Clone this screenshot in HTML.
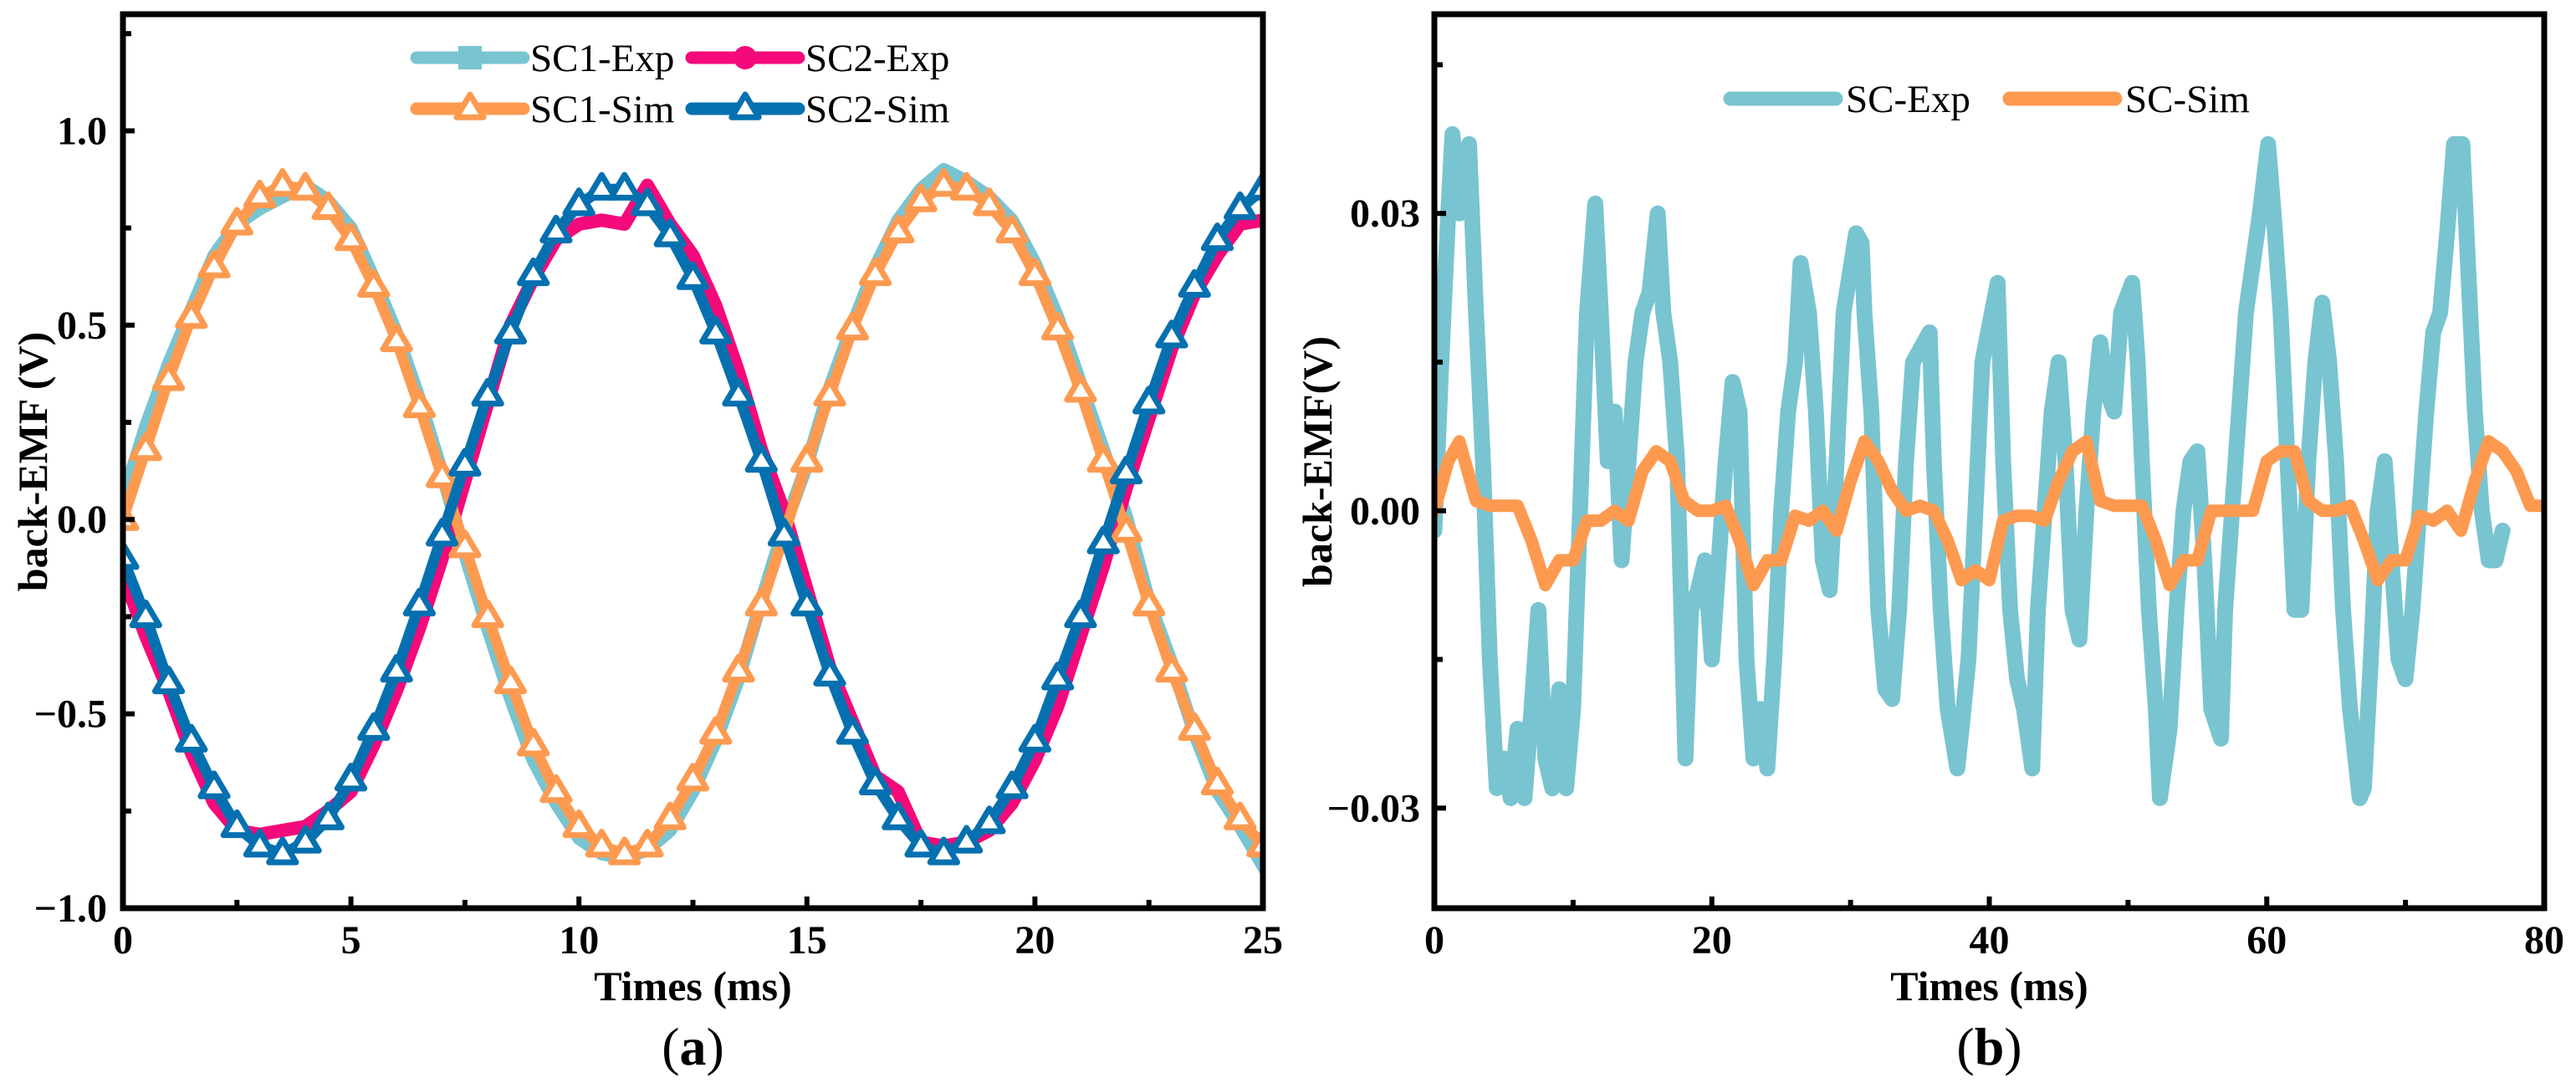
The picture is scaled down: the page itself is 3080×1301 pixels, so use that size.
<!DOCTYPE html>
<html><head><meta charset="utf-8">
<style>
html,body{margin:0;padding:0;background:#fff;font-family:"Liberation Serif","Times New Roman",Times,serif;}
svg{display:block;}
svg text{font-family:"Liberation Serif","Times New Roman",Times,serif;}
</style></head>
<body>
<svg id="chart" width="3080" height="1301" viewBox="0 0 3080 1301" xmlns="http://www.w3.org/2000/svg" font-family="Liberation Serif, Times New Roman, serif">
<g id="pa"></g>
<g id="pb"></g>
</svg>
<script>
// ---------- Panel (a) data ----------
const aTimes = [0,0.5,1,1.5,2,2.5,3,3.5,4,4.5,5,5.5,6,6.5,7,7.5,8,8.5,9,9.5,10,10.5,11,11.5,12,12.5,13,13.5,14,14.5,15,15.5,16,16.5,17,17.5,18,18.5,19,19.5,20,20.5,21,21.5,22,22.5,23,23.5,24,24.5,25];
const sc1Sim = [0,0.18,0.36,0.52,0.65,0.76,0.83,0.86,0.85,0.80,0.72,0.60,0.46,0.29,0.11,-0.07,-0.25,-0.42,-0.58,-0.70,-0.79,-0.84,-0.86,-0.84,-0.77,-0.67,-0.55,-0.39,-0.22,-0.04,0.15,0.32,0.49,0.63,0.74,0.82,0.86,0.85,0.81,0.74,0.63,0.49,0.33,0.15,-0.03,-0.22,-0.39,-0.54,-0.68,-0.77,-0.84];
const sc2Sim = [-0.10,-0.25,-0.42,-0.57,-0.69,-0.79,-0.84,-0.86,-0.83,-0.77,-0.67,-0.54,-0.39,-0.22,-0.04,0.14,0.32,0.48,0.63,0.74,0.81,0.85,0.85,0.81,0.73,0.62,0.48,0.32,0.15,-0.04,-0.22,-0.40,-0.55,-0.68,-0.77,-0.84,-0.86,-0.83,-0.78,-0.69,-0.57,-0.41,-0.25,-0.06,0.12,0.30,0.47,0.60,0.72,0.80,0.85];
const sc1Exp = [0.05,0.24,0.40,0.54,0.68,0.76,0.80,0.83,0.86,0.82,0.75,0.62,0.48,0.31,0.12,-0.09,-0.28,-0.46,-0.62,-0.73,-0.82,-0.86,-0.87,-0.85,-0.80,-0.70,-0.57,-0.41,-0.21,-0.02,0.14,0.34,0.50,0.65,0.77,0.85,0.90,0.87,0.83,0.77,0.66,0.52,0.35,0.18,0.01,-0.21,-0.37,-0.55,-0.70,-0.79,-0.89];
const sc2Exp = [-0.14,-0.30,-0.44,-0.60,-0.73,-0.80,-0.81,-0.80,-0.79,-0.75,-0.70,-0.58,-0.44,-0.28,-0.10,0.10,0.30,0.50,0.62,0.72,0.76,0.77,0.76,0.86,0.76,0.68,0.55,0.38,0.18,0.02,-0.18,-0.38,-0.52,-0.66,-0.70,-0.83,-0.84,-0.83,-0.80,-0.73,-0.62,-0.48,-0.30,-0.12,0.08,0.26,0.44,0.58,0.68,0.76,0.77];
const aXTicks = [0,5,10,15,20,25];
const aYTicks = [-1.0,-0.5,0.0,0.5,1.0];
const aYTickLabels = ["\u22121.0","\u22120.5","0.0","0.5","1.0"];

// ---------- Panel (b) data (units of 0.001 V) ----------
const bExpTimes = [0,0.5,1,1.3,1.8,2.5,3,3.5,4,4.5,5,5.5,6,6.5,7,7.5,8,8.5,9,9.5,10,10.5,11,11.6,12,12.5,13,13.5,14,14.5,15,15.5,16.1,16.5,17,17.5,18.1,18.5,19,19.5,20,20.5,21,21.5,22,22.5,23,23.5,24,24.5,25,25.5,26,26.4,27,27.5,28,28.5,29,29.5,30.4,30.8,31,31.5,32,32.5,33,33.5,34,34.5,35.7,36,36.5,37,37.7,38,38.5,39,39.5,40.6,41,41.5,42,42.5,43.1,43.5,44,44.5,45,45.5,46,46.5,47,47.5,48,48.5,49,49.5,50.3,50.7,51,51.5,52,52.3,53,53.5,54,54.5,55,55.5,56,56.7,57,57.5,58,58.5,59,59.5,60.1,60.5,61,61.5,62,62.5,63,63.5,64,64.5,65,65.5,66,66.7,67,67.5,68,68.5,69,69.5,70,70.5,71,71.5,72,72.5,73,73.5,74.1,74.5,75,75.5,76,76.5,77];
const bExp = [-2,15,30,38,30,37,20,5,-15,-28,-25,-29,-22,-29,-20,-10,-25,-28,-18,-28,-20,0,20,31,20,5,10,-5,5,15,20,22,30,20,15,5,-25,-10,-8,-5,-15,-5,5,13,10,-15,-25,-20,-26,-15,0,10,15,25,20,10,-5,-8,5,20,28,27,20,10,-10,-18,-19,-10,5,15,18,5,-10,-20,-26,-22,-15,0,15,23,5,-10,-17,-20,-26,-10,0,10,15,5,-10,-13,0,10,17,12,10,20,23,15,5,-10,-20,-29,-22,-10,0,5,6,-5,-20,-23,-10,0,10,20,25,30,37,30,20,5,-10,-10,5,15,21,15,5,-10,-20,-29,-28,-15,0,5,-5,-15,-17,-10,0,10,18,20,28,37,37,25,10,0,-5,-5,-2];
const bSimTimes = [0,1,1.8,3,4,5,6,7,8,9,10,11,12,13,14,15,16,17,18,19,20,21,22,23,24,25,26,27,28,29,30,31,32,33,34,35,36,37,38,39,40,41,42,43,44,45,46,47,48,49,50,51,52,53,54,55,56,57,58,59,60,61,62,63,64,65,66,67,68,69,70,71,72,73,74,75,76,77,78,79,80];
const bSim = [0,5,7,1,0.5,0.5,0.5,-3,-7.5,-5,-5,-1,-1,0,-1,4,6,5,1,0,0,0.5,-3,-7.5,-5,-5,-0.5,-1,0,-2,3,7,5,2,0,0.5,0,-3,-7,-6,-7,-1,-0.5,-0.5,-1,3,6,7,1,0.5,0.5,0.5,-3,-7.5,-5,-5,0,0,0,0,5,6,6,1,0,0,0.5,-3,-7,-5,-5,-0.5,-1,0,-2,3,7,6,4,0.5,0.5];
const bXTicks = [0,20,40,60,80];
const bYTicks = [-0.03,0,0.03];
const bYTickLabels = ["\u22120.03","0.00","0.03"];

const NS = "http://www.w3.org/2000/svg";
const FF = "Liberation Serif, Times New Roman, serif";
function mk(parent, tag, attrs, txt){
  const e = document.createElementNS(NS, tag);
  for (const k in attrs) e.setAttribute(k, attrs[k]);
  if (tag === "text") e.setAttribute("font-family", FF);
  if (txt !== undefined) e.textContent = txt;
  parent.appendChild(e);
  return e;
}
function linScale(d0,d1,r0,r1){ return v => r0 + (v-d0)/(d1-d0)*(r1-r0); }
function pathD(xs, ys, sx, sy){
  return xs.map((t,i)=>(i?"L":"M")+sx(t).toFixed(1)+","+sy(ys[i]).toFixed(1)).join(" ");
}
function tri(parent, cx, cy, color, name){
  const r = 17;
  const p = mk(parent,"polygon",{points:`${cx},${cy-r} ${cx-r*0.95},${cy+r*0.6} ${cx+r*0.95},${cy+r*0.6}`,fill:"#fff",stroke:color,"stroke-width":7,"stroke-linejoin":"round"});
  
  
  return p;
}

// ============ Panel A ============
(function(){
  const g = document.getElementById("pa");
  const L=147,R=1510,T=17,B=1086;
  const sx = linScale(0,25,L,R);
  const sy = linScale(-1.0,1.3,B,T);
  const clip = mk(g,"clipPath",{id:"clipA"});
  mk(clip,"rect",{x:L,y:T,width:R-L,height:B-T});
  const plot = mk(g,"g",{"clip-path":"url(#clipA)"});
  
  

  const e1 = mk(plot,"path",{d:pathD(aTimes,sc1Exp,sx,sy),fill:"none",stroke:"#79c4d1","stroke-width":16,"stroke-linejoin":"round","stroke-linecap":"square"});
  
  
  const e2 = mk(plot,"path",{d:pathD(aTimes,sc2Exp,sx,sy),fill:"none",stroke:"#f40a7a","stroke-width":16,"stroke-linejoin":"round","stroke-linecap":"round"});
  
  

  const s1 = mk(plot,"path",{d:pathD(aTimes,sc1Sim,sx,sy),fill:"none",stroke:"#fd9a50","stroke-width":13,"stroke-linejoin":"round"});
  
  
  aTimes.forEach((t,i)=>tri(plot,sx(t),sy(sc1Sim[i]),"#fd9a50","sc1-sim-marker"));
  const s2 = mk(plot,"path",{d:pathD(aTimes,sc2Sim,sx,sy),fill:"none",stroke:"#0570b0","stroke-width":13,"stroke-linejoin":"round"});
  
  
  aTimes.forEach((t,i)=>tri(plot,sx(t),sy(sc2Sim[i]),"#0570b0","sc2-sim-marker"));

  const fr = mk(g,"rect",{x:L,y:T,width:R-L,height:B-T,fill:"none",stroke:"#000","stroke-width":7});
  
  
  aXTicks.forEach(v=>{
    const x=sx(v);
    mk(g,"line",{x1:x,y1:B,x2:x,y2:B-14,stroke:"#000","stroke-width":6});
    const t=mk(g,"text",{x:x,y:1140,"text-anchor":"middle","font-size":48,"font-weight":"bold"},String(v));
    
    
  });
  [2.5,7.5,12.5,17.5,22.5].forEach(v=>mk(g,"line",{x1:sx(v),y1:B,x2:sx(v),y2:B-10,stroke:"#000","stroke-width":6}));
  aYTicks.forEach((v,i)=>{
    const y=sy(v);
    mk(g,"line",{x1:L,y1:y,x2:L+14,y2:y,stroke:"#000","stroke-width":6});
    const t=mk(g,"text",{x:128,y:y+16,"text-anchor":"end","font-size":48,"font-weight":"bold"},aYTickLabels[i]);
    
    
  });
  [-0.75,-0.25,0.25,0.75,1.25].forEach(v=>mk(g,"line",{x1:L,y1:sy(v),x2:L+10,y2:sy(v),stroke:"#000","stroke-width":6}));
  const xt=mk(g,"text",{x:(L+R)/2,y:1196,"text-anchor":"middle","font-size":50,"font-weight":"bold"},"Times (ms)");
  
  
  const yt=mk(g,"text",{x:0,y:0,"text-anchor":"middle","font-size":50,"font-weight":"bold",transform:"translate(56,552) rotate(-90)"},"back-EMF (V)");
  
  
  const cap=mk(g,"text",{x:(L+R)/2,y:1273,"text-anchor":"middle","font-size":64},"");
  
  
  mk(cap,"tspan",{},"(");mk(cap,"tspan",{"font-weight":"bold"},"a");mk(cap,"tspan",{},")");

  const lg = mk(g,"g",{});
  
  
  const items = [
    {x:498,y:69,c:"#79c4d1",m:"sq",n:"SC1-Exp"},
    {x:827,y:69,c:"#f40a7a",m:"ci",n:"SC2-Exp"},
    {x:498,y:130,c:"#fd9a50",m:"tr",n:"SC1-Sim"},
    {x:827,y:130,c:"#0570b0",m:"tr",n:"SC2-Sim"}];
  items.forEach(it=>{
    const e=mk(lg,"g",{});
    
    
    mk(e,"line",{x1:it.x,y1:it.y,x2:it.x+128,y2:it.y,stroke:it.c,"stroke-width":15,"stroke-linecap":"round"});
    const cx=it.x+64;
    if(it.m==="sq") mk(e,"rect",{x:cx-14,y:it.y-14,width:28,height:28,fill:it.c});
    if(it.m==="ci") mk(e,"circle",{cx:cx,cy:it.y,r:14,fill:it.c});
    if(it.m==="tr") tri(e,cx,it.y,it.c,"legend-marker");
    mk(e,"text",{x:it.x+136,y:it.y+16,"font-size":47},it.n);
  });
})();

// ============ Panel B ============
(function(){
  const g = document.getElementById("pb");
  const L=1715,R=3042,T=17,B=1086;
  const sx = linScale(0,80,L,R);
  const syV = linScale(-0.0401,0.0501,B,T);
  const sy = v => syV(v/1000);
  const clip = mk(g,"clipPath",{id:"clipB"});
  mk(clip,"rect",{x:L,y:T,width:R-L,height:B-T});
  const plot = mk(g,"g",{"clip-path":"url(#clipB)"});
  
  
  const ex = mk(plot,"path",{d:pathD(bExpTimes,bExp,sx,sy),fill:"none",stroke:"#79c4d1","stroke-width":19,"stroke-linejoin":"round","stroke-linecap":"round"});
  
  
  const sm = mk(plot,"path",{d:pathD(bSimTimes,bSim,sx,sy),fill:"none",stroke:"#fd9a50","stroke-width":15,"stroke-linejoin":"round","stroke-linecap":"round"});
  
  

  const fr = mk(g,"rect",{x:L,y:T,width:R-L,height:B-T,fill:"none",stroke:"#000","stroke-width":7});
  
  
  bXTicks.forEach(v=>{
    const x=sx(v);
    mk(g,"line",{x1:x,y1:B,x2:x,y2:B-14,stroke:"#000","stroke-width":6});
    const t=mk(g,"text",{x:x,y:1140,"text-anchor":"middle","font-size":48,"font-weight":"bold"},String(v));
    
    
  });
  [10,30,50,70].forEach(v=>mk(g,"line",{x1:sx(v),y1:B,x2:sx(v),y2:B-10,stroke:"#000","stroke-width":6}));
  bYTicks.forEach((v,i)=>{
    const y=syV(v);
    mk(g,"line",{x1:L,y1:y,x2:L+14,y2:y,stroke:"#000","stroke-width":6});
    const t=mk(g,"text",{x:1698,y:y+16,"text-anchor":"end","font-size":48,"font-weight":"bold"},bYTickLabels[i]);
    
    
  });
  [-0.015,0.015,0.045].forEach(v=>mk(g,"line",{x1:L,y1:syV(v),x2:L+10,y2:syV(v),stroke:"#000","stroke-width":6}));
  const xt=mk(g,"text",{x:(L+R)/2,y:1196,"text-anchor":"middle","font-size":50,"font-weight":"bold"},"Times (ms)");
  
  
  const yt=mk(g,"text",{x:0,y:0,"text-anchor":"middle","font-size":50,"font-weight":"bold",transform:"translate(1592,552) rotate(-90)"},"back-EMF(V)");
  
  
  const cap=mk(g,"text",{x:(L+R)/2,y:1273,"text-anchor":"middle","font-size":64},"");
  
  
  mk(cap,"tspan",{},"(");mk(cap,"tspan",{"font-weight":"bold"},"b");mk(cap,"tspan",{},")");

  const lg = mk(g,"g",{});
  
  
  [{x:2069,c:"#79c4d1",n:"SC-Exp"},{x:2403,c:"#fd9a50",n:"SC-Sim"}].forEach(it=>{
    const e=mk(lg,"g",{});
    
    
    mk(e,"line",{x1:it.x,y1:118,x2:it.x+126,y2:118,stroke:it.c,"stroke-width":17,"stroke-linecap":"round"});
    mk(e,"text",{x:it.x+138,y:134,"font-size":47},it.n);
  });
})();
</script>
</body></html>
